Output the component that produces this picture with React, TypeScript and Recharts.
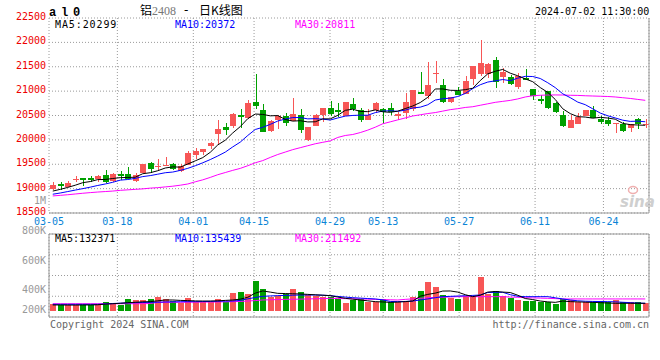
import React from 'react';
import { ComposedChart, Bar, Line, XAxis, YAxis, CartesianGrid, ReferenceLine } from 'recharts';

const DATES = [
  '03-05','03-06','03-07','03-08','03-11','03-12','03-13','03-14','03-15','03-18',
  '03-19','03-20','03-21','03-22','03-25','03-26','03-27','03-28','03-29','04-01',
  '04-02','04-03','04-08','04-09','04-10','04-11','04-12','04-15','04-16','04-17',
  '04-18','04-19','04-22','04-23','04-24','04-25','04-26','04-29','04-30','05-06',
  '05-07','05-08','05-09','05-10','05-13','05-14','05-15','05-16','05-17','05-20',
  '05-21','05-22','05-23','05-24','05-27','05-28','05-29','05-30','05-31','06-03',
  '06-04','06-05','06-06','06-07','06-11','06-12','06-13','06-14','06-17','06-18',
  '06-19','06-20','06-21','06-24','06-25','06-26','06-27','06-28','07-01','07-02',
];

const OPEN = [
  18986,19088,19041,19184,19224,19218,19190,19272,19163,19299,
  19292,19156,19320,19517,19442,19469,19496,19367,19490,19700,
  19748,19883,20120,20269,20290,20507,20439,20771,20608,20188,
  20412,20480,20392,20507,20005,20290,20507,20649,20615,20480,
  20731,20608,20412,20608,20629,20649,20493,20561,20642,20981,
  20900,21354,21117,20778,20995,20947,21253,21354,21354,21646,
  21286,21292,21082,21272,21034,20830,21000,20748,20504,20238,
  20320,20490,20606,20436,20402,20327,20334,20252,20436,20300,
];
const HIGH = [
  19129,19129,19156,19252,19224,19252,19272,19374,19313,19354,
  19435,19313,19496,19551,19598,19639,19517,19510,19768,19836,
  19816,19950,20405,20337,20547,20629,20819,21361,20730,20412,
  20507,20561,20853,20629,20263,20527,20649,20792,20751,20771,
  20853,20663,20642,20771,20649,20751,20575,20954,21015,21388,
  21592,21625,21239,20873,21090,21307,21524,22053,21578,21693,
  21476,21340,21374,21462,21034,20912,21000,20776,20592,20504,
  20558,20606,20694,20490,20476,20354,20368,20334,20456,20420,
];
const LOW = [
  18973,18973,19034,19136,19054,19143,19136,19122,19129,19184,
  19190,19136,19320,19326,19374,19456,19374,19340,19490,19598,
  19687,19815,19917,20100,20236,20242,20425,20629,20154,20168,
  20222,20276,20378,20134,19978,20276,20358,20480,20466,20480,
  20595,20371,20398,20561,20324,20507,20412,20425,20588,20934,
  20832,21171,20751,20764,20914,20934,21117,21307,21273,21056,
  21170,21116,21034,21224,20816,20728,20626,20558,20259,20238,
  20320,20490,20456,20320,20286,20150,20170,20164,20232,20250,
];
const CLOSE = [
  19068,19054,19122,19197,19170,19184,19252,19136,19299,19252,
  19204,19279,19496,19401,19456,19483,19394,19469,19721,19782,
  19816,19937,20222,20208,20527,20466,20751,20697,20168,20385,
  20493,20351,20527,20208,20263,20507,20649,20527,20575,20771,
  20629,20412,20507,20751,20581,20581,20527,20771,21015,20934,
  21117,21381,20778,20873,20920,21198,21524,21571,21558,21185,
  21388,21136,21306,21238,20898,20789,20646,20572,20286,20402,
  20476,20606,20456,20368,20334,20354,20184,20320,20334,20320,
];
const MA5 = [
  18950,18985,19025,19070,19122,19145,19185,19188,19208,19225,
  19229,19234,19306,19326,19367,19423,19446,19441,19505,19570,
  19636,19745,19896,19993,20142,20272,20435,20530,20522,20493,
  20499,20419,20385,20393,20368,20371,20431,20431,20504,20606,
  20630,20583,20579,20614,20576,20566,20589,20642,20695,20766,
  20873,21044,21045,21017,21014,21030,21059,21217,21354,21407,
  21445,21368,21315,21251,21193,21073,20975,20829,20638,20539,
  20476,20468,20445,20462,20448,20424,20339,20312,20305,20299,
];
const MA10 = [
  18885,18910,18940,18970,19000,19030,19065,19095,19130,19174,
  19187,19210,19247,19267,19296,19326,19340,19374,19416,19469,
  19530,19596,19669,19749,19856,19954,20090,20213,20258,20318,
  20386,20427,20458,20458,20431,20435,20425,20408,20449,20487,
  20501,20507,20505,20559,20591,20598,20586,20611,20655,20671,
  20720,20817,20844,20856,20890,20952,21052,21131,21186,21211,
  21238,21214,21266,21303,21300,21259,21172,21072,20945,20866,
  20775,20722,20637,20550,20494,20450,20404,20379,20384,20372,
];
const MA30 = [
  18850,18862,18875,18890,18905,18918,18930,18940,18950,18965,
  18975,18985,18995,19010,19020,19035,19050,19070,19095,19140,
  19180,19230,19285,19330,19375,19415,19470,19530,19575,19640,
  19700,19750,19800,19840,19880,19920,19950,19980,20050,20090,
  20110,20150,20200,20260,20330,20370,20410,20450,20490,20515,
  20540,20560,20590,20620,20640,20665,20680,20710,20740,20770,
  20790,20810,20840,20880,20905,20915,20920,20922,20920,20915,
  20912,20905,20900,20895,20890,20880,20865,20850,20830,20811,
];
const VOLUME = [
  125000,112000,115000,115000,112000,112000,115000,148000,132000,115000,
  174000,164000,164000,174000,193000,174000,157000,138000,183000,148000,
  145000,145000,174000,148000,231000,241000,222000,347000,267000,196000,
  206000,222000,270000,244000,215000,199000,190000,190000,177000,132000,
  164000,174000,141000,141000,174000,141000,141000,157000,190000,254000,
  341000,292000,212000,186000,174000,206000,202000,389000,218000,254000,
  206000,186000,164000,157000,157000,148000,148000,125000,174000,164000,
  141000,141000,141000,154000,141000,164000,141000,141000,141000,132000,
];
const VMA5 = [
  116000,116000,115000,115000,116000,116000,118000,124000,128000,132000,
  138000,142000,146000,148000,156000,164000,164000,160000,158000,155000,
  154000,154000,156000,160000,164000,172000,190000,230000,251000,240000,
  228000,226000,224000,222000,218000,214000,210000,206000,192000,180000,
  172000,164000,156000,148000,145000,141000,144000,148000,154000,200000,
  218000,230000,250000,251000,240000,215000,196000,210000,240000,246000,
  240000,236000,210000,178000,168000,154000,146000,141000,154000,148000,
  146000,143000,141000,138000,135000,132000,132000,132000,132000,132000,
];
const VMA10 = [
  122000,122000,122000,122000,122000,122000,122000,126000,130000,133000,
  136000,138000,140000,141000,143000,145000,146000,147000,148000,148000,
  149000,150000,152000,153000,154000,160000,175000,188000,199000,203000,
  206000,208000,210000,212000,212000,212000,210000,206000,198000,192000,
  186000,182000,178000,174000,165000,150000,148000,150000,154000,164000,
  174000,186000,196000,199000,202000,205000,208000,212000,236000,238000,
  238000,215000,200000,196000,196000,196000,196000,185000,174000,164000,
  156000,152000,150000,149000,148000,146000,142000,138000,134000,132000,
];
const VMA30 = [
  128000,128000,128000,128000,128000,128000,128000,128000,128000,128000,
  128000,128000,128000,130000,141000,141000,142000,142000,143000,143000,
  144000,144000,145000,146000,148000,150000,154000,158000,164000,166000,
  168000,170000,171000,172000,174000,176000,177000,180000,178000,177000,
  176000,174000,172000,170000,168000,166000,164000,170000,175000,180000,
  186000,188000,190000,193000,196000,196000,196000,196000,196000,196000,
  196000,192000,190000,186000,184000,182000,180000,177000,174000,174000,
  174000,174000,174000,174000,174000,174000,174000,174000,174000,174000,
];

const TICK_DATES = ['03-05','03-18','04-01','04-15','04-29','05-13','05-27','06-11','06-24'];
const PRICE_TICKS = [18500,19000,19500,20000,20500,21000,21500,22000,22500];
const VOL_TICKS = [0,200000,400000,600000,800000];
const VOL_BASE = 60000;

const TITLE_SYMBOL = '铝';
const TITLE_CODE = '2408';
const TITLE_REST = '日K线图';
const TIMESTAMP = '2024-07-02 11:30:00';
const PRICE_LEGEND = ['MA5:20299', 'MA10:20372', 'MA30:20811'];
const VOL_LEGEND = ['MA5:132371', 'MA10:135439', 'MA30:211492'];

const data = DATES.map((d, i) => ({
  i, date: d, o: OPEN[i], hi: HIGH[i], lo: LOW[i], c: CLOSE[i],
  ma5: MA5[i], ma10: MA10[i], ma30: MA30[i],
  vol: VOLUME[i], vma5: VMA5[i], vma10: VMA10[i], vma30: VMA30[i],
}));
const tickIdx = TICK_DATES.map((t) => DATES.indexOf(t));

const RED = '#f75656';
const GREEN = '#00a000';
const GRID = '#9a9a9a';
const FRAME = '#999999';
const MONO = '"DejaVu Sans Mono", monospace';
const LBL_BLUE = '#0a84d6';

// price panel geometry
const PRICE_H = 240;
const PRICE_MARGIN = { top: 18, right: 11, bottom: 1, left: 0 };
const LBL_AXIS_H = 26;
const PLOT_BOTTOM = PRICE_H - PRICE_MARGIN.bottom - LBL_AXIS_H;

const CandleShape = (p: any) => {
  const { x, y, width, height, payload } = p;
  const top = Math.min(y, y + height);
  const h = Math.abs(height);
  const span = payload.hi - payload.lo;
  const k = span > 0 ? h / span : 0;
  const up = payload.c >= payload.o;
  const color = up ? RED : GREEN;
  const bTop = top + (payload.hi - Math.max(payload.o, payload.c)) * k;
  const bBot = top + (payload.hi - Math.min(payload.o, payload.c)) * k;
  const bx = Math.round(x);
  const w = Math.round(width);
  const wx = bx + Math.floor(w / 2);
  const ty = Math.round(top);
  const by = Math.round(bTop);
  return (
    <g>
      <rect x={wx} y={ty} width={1} height={Math.max(1, Math.round(top + h) - ty)} fill={color} />
      <rect x={bx} y={by} width={w} height={Math.max(1, Math.round(bBot) - by)} fill={color} />
    </g>
  );
};

const VolShape = (p: any) => {
  const { x, y, width, height, payload } = p;
  const top = Math.min(y, y + height);
  const h = Math.abs(height);
  const up = payload.c >= payload.o;
  const ty = Math.round(top);
  return <rect x={Math.round(x)} y={ty} width={Math.round(width)} height={Math.max(1, Math.round(top + h) - ty)} fill={up ? RED : GREEN} />;
};

const XTick = (p: any) => (
  <text x={p.x} y={PLOT_BOTTOM + 12} textAnchor="middle" fill={LBL_BLUE} fontSize={10} fontFamily={MONO}>
    {DATES[p.payload.value]}
  </text>
);

const PriceTick = (p: any) => (
  <text x={p.x} y={p.y + 2} textAnchor="end" fill="#ee0000" fontSize={10} fontFamily={MONO}>
    {p.payload.value}
  </text>
);

const VOL_LABEL_DY: Record<number, number> = { 200000: 16.5, 400000: 17.8, 600000: 9.6, 800000: 0.4 };
const VolTick = (p: any) => {
  const v = p.payload.value;
  if (!v) return null;
  return (
    <text x={p.x} y={p.y + (VOL_LABEL_DY[v] ?? 3)} textAnchor="end" fill="#999" fontSize={10} fontFamily={MONO}>
      {v / 1000 + 'K'}
    </text>
  );
};

export default function App() {
  return (
    <div style={{ position: 'absolute', left: 0, top: 0, width: 660, height: 360, background: '#fff', overflow: 'hidden' }}>
      <div style={{ position: 'absolute', left: 0, top: 0 }}>
        <ComposedChart width={660} height={PRICE_H} data={data} margin={PRICE_MARGIN}>
          <XAxis xAxisId="lbl" type="number" dataKey="i" domain={[0, DATES.length - 1]} ticks={tickIdx} interval={0}
            height={LBL_AXIS_H} axisLine={false} tickLine={false} tickSize={0} tickMargin={0} tick={<XTick />} allowDataOverflow />
          <XAxis xAxisId="c" type="number" dataKey="i" domain={[-0.5, DATES.length - 0.5]} hide height={0} />
          <YAxis type="number" domain={[18500, 22500]} ticks={PRICE_TICKS} interval={0} width={49}
            axisLine={false} tickLine={false} tickSize={0} tickMargin={3} tick={<PriceTick />} allowDataOverflow />
          <CartesianGrid xAxisId="lbl" stroke={GRID} strokeDasharray="1 2" />
          <ReferenceLine xAxisId="c" y={18500} stroke={FRAME} ifOverflow="visible" />
          <ReferenceLine xAxisId="c" x={DATES.length - 0.5} stroke={FRAME} ifOverflow="visible" />
          <Bar xAxisId="c" dataKey={(d: any) => [d.lo, d.hi]} barSize={6} shape={CandleShape} isAnimationActive={false} />
          <Line xAxisId="c" dataKey="ma30" stroke="#ff00ff" strokeWidth={1} dot={false} activeDot={false} isAnimationActive={false} />
          <Line xAxisId="c" dataKey="ma10" stroke="#0000ff" strokeWidth={1} dot={false} activeDot={false} isAnimationActive={false} />
          <Line xAxisId="c" dataKey="ma5" stroke="#000000" strokeWidth={1} dot={false} activeDot={false} isAnimationActive={false} />
        </ComposedChart>
      </div>
      <div style={{ position: 'absolute', left: 0, top: 0 }}>
        <ComposedChart width={660} height={360} data={data} margin={{ top: 234, right: 11, bottom: 43, left: 0 }}>
          <XAxis xAxisId="c" type="number" dataKey="i" domain={[-0.5, DATES.length - 0.5]} hide />
          <XAxis xAxisId="lbl" type="number" dataKey="i" domain={[0, DATES.length - 1]} ticks={tickIdx} interval={0} hide allowDataOverflow />
          <YAxis type="number" domain={[0, 800000]} ticks={VOL_TICKS} interval={0} width={49}
            axisLine={false} tickLine={false} tickSize={0} tickMargin={3} tick={<VolTick />} allowDataOverflow />
          <CartesianGrid xAxisId="lbl" stroke={GRID} strokeDasharray="1 2" />
          <ReferenceLine xAxisId="c" y={0} stroke={FRAME} ifOverflow="visible" />
          <ReferenceLine xAxisId="c" y={800000} stroke={FRAME} ifOverflow="visible" />
          <ReferenceLine xAxisId="c" x={-0.5} stroke={FRAME} ifOverflow="visible" />
          <ReferenceLine xAxisId="c" x={DATES.length - 0.5} stroke={FRAME} ifOverflow="visible" />
          <Bar xAxisId="c" dataKey={(d: any) => [VOL_BASE, d.vol]} barSize={6} shape={VolShape} isAnimationActive={false} />
          <Line xAxisId="c" dataKey="vma30" stroke="#ff00ff" strokeWidth={1} dot={false} activeDot={false} isAnimationActive={false} />
          <Line xAxisId="c" dataKey="vma10" stroke="#0000ff" strokeWidth={1} dot={false} activeDot={false} isAnimationActive={false} />
          <Line xAxisId="c" dataKey="vma5" stroke="#000000" strokeWidth={1} dot={false} activeDot={false} isAnimationActive={false} />
        </ComposedChart>
      </div>
      <svg width={660} height={360} style={{ position: 'absolute', left: 0, top: 0, pointerEvents: 'none' }}>
        <text x={49} y={15.5} fontSize={12} fontWeight="bold" fontFamily='"Liberation Mono", monospace' letterSpacing={4.8} fill="#000">al0</text>
        <text x={140} y={15} fontSize={12} fontFamily='"Noto Sans CJK SC", sans-serif' fill="#000">{TITLE_SYMBOL}</text>
        <text x={152} y={15} fontSize={12} fontFamily='"Liberation Serif", serif' fill="#777">{TITLE_CODE}</text>
        <text x={184} y={14} fontSize={12} fontFamily='"DejaVu Sans", sans-serif' fill="#000">-</text>
        <text x={199} y={15} fontSize={12} fontFamily='"Noto Sans CJK SC", sans-serif' fill="#000">{TITLE_REST}</text>
        <text x={535} y={15} fontSize={10} fontFamily={MONO} fill="#000">{TIMESTAMP}</text>
        <text x={55} y={27.5} fontSize={10} fontFamily={MONO} fill="#000" letterSpacing={0.9}>{PRICE_LEGEND[0]}</text>
        <text x={175} y={27.5} fontSize={10} fontFamily={MONO} fill="#0000ff">{PRICE_LEGEND[1]}</text>
        <text x={295} y={27.5} fontSize={10} fontFamily={MONO} fill="#ff00ff">{PRICE_LEGEND[2]}</text>
        <text x={55} y={241.7} fontSize={10} fontFamily={MONO} fill="#000">{VOL_LEGEND[0]}</text>
        <text x={175} y={241.7} fontSize={10} fontFamily={MONO} fill="#0000ff">{VOL_LEGEND[1]}</text>
        <text x={295} y={241.7} fontSize={10} fontFamily={MONO} fill="#ff00ff">{VOL_LEGEND[2]}</text>
        <text x={46} y={203.5} fontSize={10} fontFamily={MONO} textAnchor="end" fill="#999">1M</text>
        <text x={50} y={327.5} fontSize={10} fontFamily={MONO} fill="#666">Copyright 2024 SINA.COM</text>
        <text x={649} y={327.5} fontSize={10} fontFamily={MONO} textAnchor="end" fill="#666">http://finance.sina.com.cn</text>
        <ellipse cx={633} cy={190} rx={4.5} ry={3.5} fill="none" stroke="#f0b0b0" strokeWidth={1.5} />
        <text x={620} y={207} fontSize={15} fontWeight="bold" fontStyle="italic" fontFamily='"DejaVu Sans", sans-serif' fill="#cfcfcf">sina</text>
      </svg>
    </div>
  );
}
